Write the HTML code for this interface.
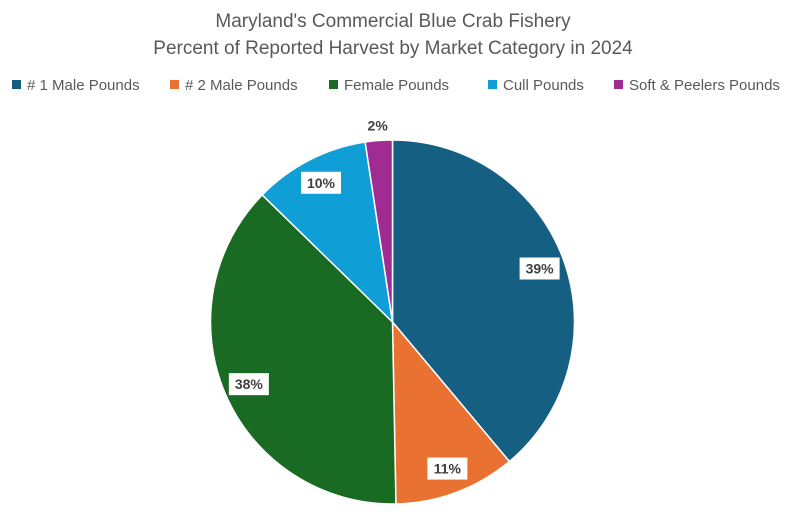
<!DOCTYPE html>
<html><head><meta charset="utf-8">
<style>
html,body{margin:0;padding:0;background:#fff;}
body{width:786px;height:522px;overflow:hidden;font-family:"Liberation Sans",sans-serif;}
</style></head>
<body>
<svg width="786" height="522" xmlns="http://www.w3.org/2000/svg">
<text x="393" y="27" text-anchor="middle" font-size="19" fill="#595959">Maryland's Commercial Blue Crab Fishery</text>
<text x="393" y="54" text-anchor="middle" font-size="19" fill="#595959">Percent of Reported Harvest by Market Category in 2024</text>
<g id="legend"></g>
<g id="slices"></g>
<g id="labels"></g>
</svg>
<script>
const categories=["# 1 Male Pounds","# 2 Male Pounds","Female Pounds","Cull Pounds","Soft & Peelers Pounds"];
const values=[38.9,10.8,37.6,10.3,2.4];
const colors=["#156082","#E97132","#196B24","#0F9ED5","#A02B93"];
const NS="http://www.w3.org/2000/svg";
const cx=392.5,cy=322,r=182;
const total=values.reduce((a,b)=>a+b,0);
const sl=document.getElementById('slices'),lb=document.getElementById('labels'),lg=document.getElementById('legend');
function pt(a,rr){return [cx+rr*Math.sin(a),cy-rr*Math.cos(a)];}
let acc=0;
values.forEach((v,i)=>{
  const a0=acc/total*2*Math.PI; acc+=v; const a1=acc/total*2*Math.PI;
  const p0=pt(a0,r),p1=pt(a1,r);
  const p=document.createElementNS(NS,'path');
  p.setAttribute('d',`M${cx},${cy}L${p0[0]},${p0[1]}A${r},${r} 0 ${a1-a0>Math.PI?1:0} 1 ${p1[0]},${p1[1]}Z`);
  p.setAttribute('fill',colors[i]);p.setAttribute('stroke','#fff');p.setAttribute('stroke-width','1.5');
  
  
  sl.appendChild(p);
  const am=(a0+a1)/2;
  const small=v/total<0.05;
  const lp=pt(am,small?r+15:r*0.86);
  const txt=Math.round(v/total*100)+'%';
  const g=document.createElementNS(NS,'g');
  
  
  if(!small){
    const rc=document.createElementNS(NS,'rect');
    rc.setAttribute('x',lp[0]-20);rc.setAttribute('y',lp[1]-11);rc.setAttribute('width',40);rc.setAttribute('height',22);rc.setAttribute('fill','#fff');
    g.appendChild(rc);
  }
  const t=document.createElementNS(NS,'text');
  t.setAttribute('x',lp[0]);t.setAttribute('y',lp[1]+5);t.setAttribute('text-anchor','middle');
  t.setAttribute('font-size','14');t.setAttribute('font-weight','bold');t.setAttribute('fill','#404040');
  t.textContent=txt;g.appendChild(t);lb.appendChild(g);
});
const lx=[12,170,329,488,614];
categories.forEach((c,i)=>{
  const g=document.createElementNS(NS,'g');
  
  
  const rc=document.createElementNS(NS,'rect');
  rc.setAttribute('x',lx[i]);rc.setAttribute('y',80);rc.setAttribute('width',9);rc.setAttribute('height',9);rc.setAttribute('fill',colors[i]);
  const t=document.createElementNS(NS,'text');
  t.setAttribute('x',lx[i]+15);t.setAttribute('y',90);t.setAttribute('font-size','15');t.setAttribute('fill','#595959');
  t.textContent=c;
  g.appendChild(rc);g.appendChild(t);lg.appendChild(g);
});
</script>
</body></html>
